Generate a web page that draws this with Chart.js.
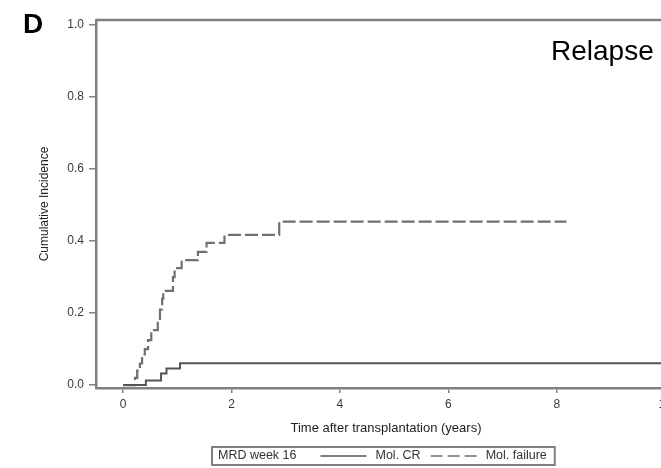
<!DOCTYPE html>
<html>
<head>
<meta charset="utf-8">
<script src="https://cdn.jsdelivr.net/npm/chart.js@4"></script>
<style>
  html, body { margin: 0; padding: 0; background: #fff; overflow: hidden; }
  canvas { display: block; }
</style>
</head>
<body>
<canvas id="relapseChart" width="680" height="468"></canvas>
<script>
/* eslint-disable */

// cumulative incidence of relapse, step curves (time in years)
const crTimes = [0, 0.42, 0.70, 0.80, 1.05, 10.2];
const crValues = [0, 0.013, 0.032, 0.046, 0.061, 0.061];

const failTimes = [0, 0.22, 0.26, 0.31, 0.35, 0.40, 0.46, 0.52, 0.64, 0.68, 0.72, 0.74,
  0.92, 0.95, 1.08, 1.38, 1.54, 1.87, 2.88, 8.18];
const failValues = [0, 0.02, 0.04, 0.06, 0.085, 0.10, 0.125, 0.153, 0.18, 0.21, 0.24, 0.262,
  0.30, 0.325, 0.347, 0.37, 0.395, 0.417, 0.454, 0.454];

const seriesLabels = ["Mol. CR", "Mol. failure"];
const legendTitle = "MRD week 16";
const xTicks = [0, 2, 4, 6, 8, 10];
const yTicks = [0, 0.2, 0.4, 0.6, 0.8, 1.0];

const FRAME = "#808080";
const FONT = "'Liberation Sans', Arial, sans-serif";
Chart.defaults.font.family = FONT;

const toPoints = (xs, ys) => xs.map((x, i) => ({ x: x, y: ys[i] }));

// frame top/right, panel letter, heading and boxed legend
const decorPlugin = {
  id: "decor",
  afterDraw(chart) {
    const { ctx, chartArea: a } = chart;
    ctx.save();
    ctx.strokeStyle = FRAME;
    ctx.lineWidth = 2.5;
    ctx.beginPath();
    ctx.moveTo(a.left, a.top);
    ctx.lineTo(a.right, a.top);
    ctx.lineTo(a.right, a.bottom);
    ctx.stroke();

    ctx.fillStyle = "#000";
    ctx.textBaseline = "alphabetic";
    ctx.font = "bold 28px " + FONT;
    ctx.fillText("D", 23, 33);
    ctx.font = "28px " + FONT;
    ctx.fillText("Relapse", 551, 60);

    // legend
    const top = 447, h = 18, mid = top + h / 2, left = 212;
    ctx.font = "12.5px " + FONT;
    ctx.fillStyle = "#333";
    ctx.textBaseline = "middle";
    let x = left + 6;
    ctx.fillText(legendTitle, x, mid);
    x += ctx.measureText(legendTitle).width + 24;
    chart.data.datasets.forEach((ds, i) => {
      ctx.strokeStyle = ds.borderColor;
      ctx.lineWidth = 1.5;
      ctx.setLineDash(i === 0 ? [] : [12, 5]);
      ctx.beginPath();
      ctx.moveTo(x, mid);
      ctx.lineTo(x + 46, mid);
      ctx.stroke();
      ctx.setLineDash([]);
      x += 46 + 9;
      ctx.fillText(ds.label, x, mid);
      x += ctx.measureText(ds.label).width + 10;
    });
    ctx.strokeStyle = FRAME;
    ctx.lineWidth = 2;
    ctx.strokeRect(left, top, x - 2 - left, h);
    ctx.restore();
  }
};

const relapseConfig = {
  type: "line",
  data: {
    datasets: [
      {
        label: seriesLabels[0],
        data: toPoints(crTimes, crValues),
        borderColor: "#555",
        borderWidth: 2,
        stepped: "before",
        pointRadius: 0,
        fill: false
      },
      {
        label: seriesLabels[1],
        data: toPoints(failTimes, failValues),
        borderColor: "#707070",
        borderWidth: 2.2,
        borderDash: [13, 4],
        stepped: "before",
        pointRadius: 0,
        fill: false
      }
    ]
  },
  options: {
    responsive: false,
    animation: false,
    layout: { padding: { top: 20, right: 4, left: 0, bottom: 0 } },
    plugins: { legend: { display: false }, tooltip: { enabled: false } },
    scales: {
      x: {
        type: "linear",
        min: -0.5,
        max: 10.2,
        afterFit: (s) => { s.height = 80; },
        afterBuildTicks: (s) => { s.ticks = xTicks.map((v) => ({ value: v })); },
        border: { color: FRAME, width: 2.5 },
        grid: { drawOnChartArea: false, tickLength: 5, color: FRAME, lineWidth: 1.5 },
        ticks: {
          autoSkip: false, maxRotation: 0, padding: 4, color: "#3a3a3a",
          font: { size: 12 },
          callback: (v) => String(v)
        },
        title: {
          display: true, text: "Time after transplantation (years)", color: "#222",
          font: { size: 13 }, padding: { top: 0, bottom: 32 }
        }
      },
      y: {
        min: -0.008,
        max: 1.014,
        afterFit: (s) => { s.width = 96; },
        afterBuildTicks: (s) => { s.ticks = yTicks.map((v) => ({ value: v })); },
        border: { color: FRAME, width: 2.5 },
        grid: { drawOnChartArea: false, tickLength: 7, color: FRAME, lineWidth: 1.5 },
        ticks: {
          autoSkip: false, padding: 5, color: "#3a3a3a",
          font: { size: 12 },
          callback: (v) => v.toFixed(1)
        },
        title: {
          display: true, text: "Cumulative Incidence", color: "#222",
          font: { size: 12 }, padding: { top: 37, bottom: 0 }
        }
      }
    }
  },
  plugins: [decorPlugin]
};

if (document.getElementById("relapseChart")) {
  const relapseChart = new Chart(
    document.getElementById("relapseChart"),
    relapseConfig
  );
}
</script>
</body>
</html>
